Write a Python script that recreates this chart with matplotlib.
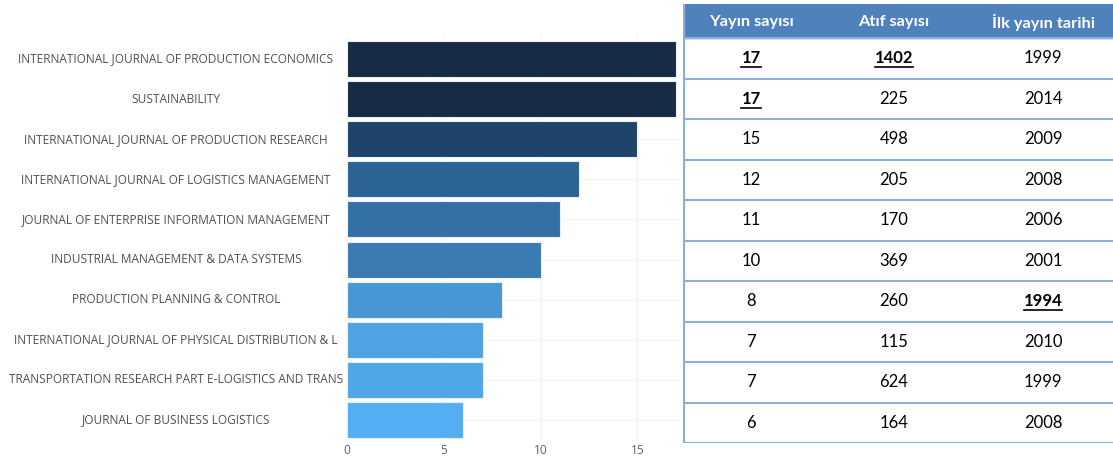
import matplotlib
matplotlib.use('Agg')
import matplotlib.pyplot as plt

# ── Data ────────────────────────────────────────────────────────────────────
journals = [
    'INTERNATIONAL JOURNAL OF PRODUCTION ECONOMICS',
    'SUSTAINABILITY',
    'INTERNATIONAL JOURNAL OF PRODUCTION RESEARCH',
    'INTERNATIONAL JOURNAL OF LOGISTICS MANAGEMENT',
    'JOURNAL OF ENTERPRISE INFORMATION MANAGEMENT',
    'INDUSTRIAL MANAGEMENT & DATA SYSTEMS',
    'PRODUCTION PLANNING & CONTROL',
    'INTERNATIONAL JOURNAL OF PHYSICAL DISTRIBUTION & L',
    'TRANSPORTATION RESEARCH PART E-LOGISTICS AND TRANS',
    'JOURNAL OF BUSINESS LOGISTICS',
]
pubs = [17, 17, 15, 12, 11, 10, 8, 7, 7, 6]
citations = [1402, 225, 498, 205, 170, 369, 260, 115, 624, 164]
first_year = [1999, 2014, 2009, 2008, 2006, 2001, 1994, 2010, 1999, 2008]
headers = ['Yayın sayısı', 'Atıf sayısı', 'İlk yayın tarihi']

bar_colors = ['#172b45', '#172b45', '#1e4569', '#2c6394', '#3370a6',
              '#3a7bb4', '#4996d5', '#4fa3e3', '#50a6e6', '#54aef3']

W, H = 1113, 461
fig = plt.figure(figsize=(W / 100, H / 100), dpi=100)

# ── Bar chart ───────────────────────────────────────────────────────────────
ax = fig.add_axes([347 / W, 1 - 440 / H, (680 - 347) / W, (440 - 35) / H])
ypos = list(range(len(journals)))
ax.barh(ypos, pubs, height=0.9, color=bar_colors, edgecolor='#e8eef5',
        linewidth=0.8, zorder=2)
ax.set_xlim(0, 17.2)
ax.set_ylim(len(journals) - 0.5, -0.6)
ax.set_yticks(ypos)
ax.set_yticklabels([])
ax.tick_params(axis='y', length=0)
# centred category labels, like the original
label_cx = 176 - 347  # pixels relative to the axis left edge
for y, name in zip(ypos, journals):
    ax.annotate(name, xy=(0, y), xycoords=('axes fraction', 'data'),
                xytext=(label_cx, 0), textcoords='offset pixels',
                ha='center', va='center', fontsize=8.6, color='#505050',
                family='Open Sans', annotation_clip=False)
ax.set_xticks([0, 5, 10, 15])
ax.tick_params(axis='x', labelsize=8.6, labelcolor='#606060', length=0, pad=3)
for lbl in ax.get_xticklabels():
    lbl.set_family('Open Sans')
ax.grid(True, color='#f3f3f3', linewidth=0.8, zorder=0)
for s in ax.spines.values():
    s.set_visible(False)

# ── Table ───────────────────────────────────────────────────────────────────
tx0, tx1 = 683, 1113
ty_top, ty_head, ty_bot = 4, 38, 443
tab = fig.add_axes([tx0 / W, 1 - ty_bot / H, (tx1 - tx0) / W, (ty_bot - ty_top) / H])
tab.set_xlim(tx0, tx1)
tab.set_ylim(ty_bot, ty_top)
tab.axis('off')

border = '#8eafd8'
tab.axhspan(ty_top, ty_head, color='#4f81bd', zorder=1)
col_x = [751, 894, 1043]
for x, h in zip(col_x, headers):
    tab.text(x, (ty_top + ty_head) / 2 + 1, h, ha='center', va='center',
             color='white', fontsize=11.8, fontweight='bold', family='Lato')

nrows = len(pubs)
row_h = (ty_bot - ty_head) / nrows
for i in range(nrows + 1):
    tab.axhline(ty_head + i * row_h, color=border, linewidth=1.5, zorder=2)
tab.axvline(tx0 + 0.8, ymin=0, ymax=1, color=border, linewidth=1.6, zorder=2)

bold_cells = {(0, 0), (1, 0), (0, 1), (6, 2)}
fig.canvas.draw()
for i in range(nrows):
    yc = ty_head + (i + 0.5) * row_h
    for j, val in enumerate([pubs[i], citations[i], first_year[i]]):
        b = (i, j) in bold_cells
        t = tab.text(col_x[j], yc, str(val), ha='center', va='center',
                     color='black', fontsize=12, family='Lato',
                     fontweight='bold' if b else 'normal')
        if b:
            bb = t.get_window_extent(renderer=fig.canvas.get_renderer())
            bb = bb.transformed(tab.transData.inverted())
            tab.plot([bb.x0, bb.x1], [yc + 9, yc + 9], color='black',
                     linewidth=1.2, zorder=3)

fig.savefig('out.png', dpi=100, facecolor='white')
